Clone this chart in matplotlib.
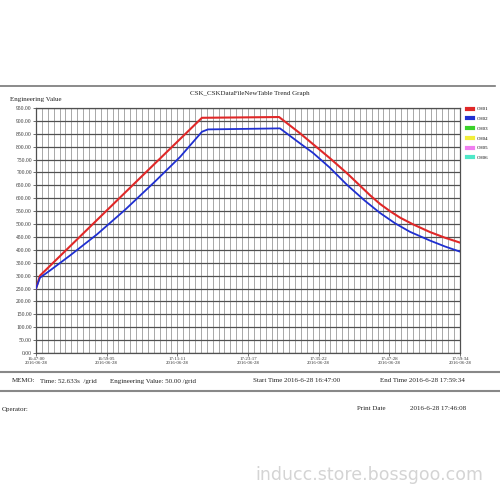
import matplotlib
matplotlib.use('AGG')
import matplotlib.pyplot as plt
from matplotlib.lines import Line2D
import numpy as np

# minutes after start (16:47:00) -> engineering value
red_t = [0.0, 0.68, 19.5, 28.4, 41.6, 45.18, 50.32, 53.23, 57.16, 58.88, 60.59,
         62.30, 64.52, 67.43, 70.0, 72.57]
red_v = [250, 300, 716, 912, 915, 852, 755, 697, 612, 578, 550,
         525, 499, 469, 447, 428]

blue_t = [0.0, 0.68, 2.40, 5.82, 10.44, 15.23, 20.37, 24.65, 28.41, 29.44, 41.76,
          45.18, 47.41, 50.32, 53.23, 56.31, 58.88, 61.45, 64.0, 67.43, 70.0, 72.57]
blue_v = [250, 292, 320, 378, 460, 555, 665, 760, 858, 867, 871,
          813, 776, 718, 652, 590, 543, 503, 470, 436, 413, 393]

tick_labels = ['16:47:00\n2016-06-28', '16:59:05\n2016-06-28', '17:11:11\n2016-06-28',
               '17:23:17\n2016-06-28', '17:35:22\n2016-06-28', '17:47:28\n2016-06-28',
               '17:59:34\n2016-06-28']
legend_names = ['CH01', 'CH02', 'CH03', 'CH04', 'CH05', 'CH06']
legend_colors = ['#e02828', '#1f2fd0', '#3ad12a', '#f2ee3a', '#f07ef0', '#4fe8c8']

t_end = 72.57
serif = 'Liberation Serif'

fig = plt.figure(figsize=(5, 5), dpi=100)
ax = fig.add_axes([0.072, 0.294, 0.848, 0.49])

# grid: light vertical columns, darker rows every 50
for x in np.linspace(0, t_end, 73):
    ax.axvline(x, color='#a8a8a8', lw=0.7, zorder=0)
for y in range(0, 951, 50):
    ax.axhline(y, color='#505050', lw=0.9, zorder=0)

ax.plot(red_t, red_v, color=legend_colors[0], lw=1.5, zorder=3)
ax.plot(blue_t, blue_v, color=legend_colors[1], lw=1.3, zorder=3)

ax.set_xlim(0, t_end)
ax.set_ylim(0, 950)
ax.set_yticks(range(0, 951, 50))
ax.set_yticklabels(['%.2f' % v for v in range(0, 951, 50)], fontsize=4, family=serif, color='#333333')
ax.set_xticks(np.linspace(0, t_end, 7))
ax.set_xticklabels(tick_labels, fontsize=3.5, family=serif, color='#333333', linespacing=0.9)
ax.tick_params(length=2, width=0.5, pad=1, colors='#333333')
for s in ax.spines.values():
    s.set_color('#505050')
    s.set_linewidth(0.9)

handles = [Line2D([0], [0], color=c, lw=3) for c in legend_colors]
fig.legend(handles, legend_names, loc='upper left', bbox_to_anchor=(0.925, 0.795),
           frameon=False, handlelength=1.2, labelspacing=1.1,
           prop={'family': serif, 'size': 3.5})

# header / footer
fig.add_artist(Line2D([0.0, 0.99], [1 - 86/500, 1 - 86/500], color='#777777', lw=1.2))
fig.text(0.5, 1 - 93/500, 'CSK_CSKDataFileNewTable Trend Graph', ha='center', va='center',
         fontsize=5, family=serif, color='#222222')
fig.text(0.02, 1 - 100/500, 'Engineering Value', ha='left', va='center',
         fontsize=5, family=serif, color='#222222')

fig.add_artist(Line2D([0.0, 1.0], [1 - 372/500, 1 - 372/500], color='#888888', lw=1.5))
fig.add_artist(Line2D([0.0, 1.0], [1 - 391/500, 1 - 391/500], color='#888888', lw=1.5))
row = 1 - 381/500
fig.text(0.024, row, 'MEMO:', fontsize=5, family=serif, va='center', color='#222222')
fig.text(0.08, row, 'Time: 52.633s  /grid', fontsize=5, family=serif, va='center', color='#222222')
fig.text(0.22, row, 'Engineering Value: 50.00 /grid', fontsize=5, family=serif, va='center', color='#222222')
fig.text(0.506, row, 'Start Time 2016-6-28 16:47:00', fontsize=5, family=serif, va='center', color='#222222')
fig.text(0.76, row, 'End Time 2016-6-28 17:59:34', fontsize=5, family=serif, va='center', color='#222222')

row2 = 1 - 409/500
fig.text(0.004, row2, 'Operator:', fontsize=5, family=serif, va='center', color='#222222')
fig.text(0.714, row2, 'Print Date', fontsize=5, family=serif, va='center', color='#222222')
fig.text(0.82, row2, '2016-6-28 17:46:08', fontsize=5, family=serif, va='center', color='#222222')

fig.text(0.51, 1 - 475/500, 'inducc.store.bossgoo.com', fontsize=12.5, color='#d4d4d4',
         va='center', ha='left')

fig.savefig('out.png', dpi=100, facecolor='white')
